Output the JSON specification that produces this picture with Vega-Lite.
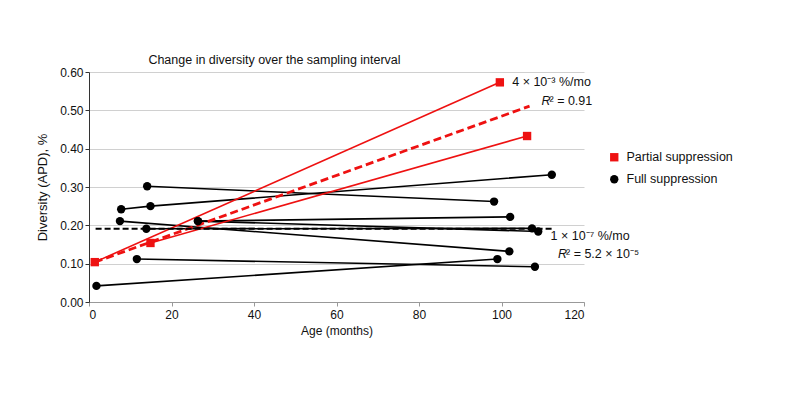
{
  "$schema": "https://vega.github.io/schema/vega-lite/v6.json",
  "width": 495,
  "height": 230,
  "autosize": "none",
  "padding": {"left": 89, "top": 72, "right": 209, "bottom": 118},
  "background": "white",
  "config": {
    "font": "Liberation Sans",
    "view": {"stroke": null},
    "title": {"font": "Liberation Sans", "fontSize": 12.5, "fontWeight": "normal", "color": "#111"}
  },
  "title": {"text": "Change in diversity over the sampling interval", "anchor": "middle", "dx": -62, "offset": 0},
  "datasets": {
    "patients": [
      {"pid": "P1", "group": "Partial suppression", "age": 1.4, "apd": 0.104},
      {"pid": "P1", "group": "Partial suppression", "age": 99.6, "apd": 0.573},
      {"pid": "P2", "group": "Partial suppression", "age": 14.9, "apd": 0.154},
      {"pid": "P2", "group": "Partial suppression", "age": 106.2, "apd": 0.433},
      {"pid": "F1", "group": "Full suppression", "age": 1.8, "apd": 0.042},
      {"pid": "F1", "group": "Full suppression", "age": 99.0, "apd": 0.112},
      {"pid": "F2", "group": "Full suppression", "age": 11.6, "apd": 0.112},
      {"pid": "F2", "group": "Full suppression", "age": 108.1, "apd": 0.092},
      {"pid": "F3", "group": "Full suppression", "age": 14.1, "apd": 0.302},
      {"pid": "F3", "group": "Full suppression", "age": 98.2, "apd": 0.262},
      {"pid": "F4", "group": "Full suppression", "age": 7.8, "apd": 0.242},
      {"pid": "F4", "group": "Full suppression", "age": 14.9, "apd": 0.250},
      {"pid": "F4", "group": "Full suppression", "age": 112.2, "apd": 0.332},
      {"pid": "F5", "group": "Full suppression", "age": 7.5, "apd": 0.211},
      {"pid": "F5", "group": "Full suppression", "age": 101.9, "apd": 0.132},
      {"pid": "F6", "group": "Full suppression", "age": 13.9, "apd": 0.191},
      {"pid": "F6", "group": "Full suppression", "age": 107.4, "apd": 0.192},
      {"pid": "F7", "group": "Full suppression", "age": 26.4, "apd": 0.211},
      {"pid": "F7", "group": "Full suppression", "age": 102.1, "apd": 0.222},
      {"pid": "F8", "group": "Full suppression", "age": 26.4, "apd": 0.211},
      {"pid": "F8", "group": "Full suppression", "age": 108.9, "apd": 0.184}
    ],
    "fitPartial": [
      {"age": 1.4, "apd": 0.104},
      {"age": 106.8, "apd": 0.511}
    ],
    "fitFull": [
      {"age": 1.6, "apd": 0.191},
      {"age": 112.4, "apd": 0.191}
    ],
    "notes": [
      {"label": "4 × 10⁻³ %/mo", "age": 102.6, "apd": 0.573},
      {"label": "1 × 10⁻⁷ %/mo", "age": 111.9, "apd": 0.171}
    ],
    "rnotes": [
      {"r": "R", "rest": "² = 0.91", "age": 109.7, "apd": 0.525},
      {"r": "R", "rest": "² = 5.2 × 10⁻⁵", "age": 113.7, "apd": 0.126}
    ]
  },
  "encoding": {
    "x": {
      "field": "age", "type": "quantitative",
      "scale": {"domain": [0, 120], "nice": false},
      "axis": {
        "title": "Age (months)", "values": [0, 20, 40, 60, 80, 100, 120],
        "grid": false, "domainColor": "#999", "tickColor": "#999", "tickSize": 4,
        "labelFontSize": 12, "labelColor": "#111", "labelPadding": 3,
        "titleFontSize": 12, "titleFontWeight": "normal", "titleColor": "#111", "titlePadding": 5
      }
    },
    "y": {
      "field": "apd", "type": "quantitative",
      "scale": {"domain": [0, 0.6], "nice": false},
      "axis": {
        "title": "Diversity (APD), %", "values": [0, 0.1, 0.2, 0.3, 0.4, 0.5, 0.6], "format": ".2f",
        "grid": true, "gridColor": "#d0d0d0", "gridWidth": 1,
        "domainColor": "#333", "tickColor": "#333", "tickSize": 4,
        "labelFontSize": 12, "labelColor": "#111", "labelPadding": 2,
        "titleFontSize": 13, "titleFontWeight": "normal", "titleColor": "#111", "titlePadding": 10
      }
    }
  },
  "layer": [
    {
      "data": {"name": "patients"},
      "transform": [{"filter": "datum.group === 'Full suppression'"}],
      "mark": {"type": "line", "strokeWidth": 1.6, "color": "#000000"},
      "encoding": {"detail": {"field": "pid"}}
    },
    {
      "data": {"name": "patients"},
      "transform": [{"filter": "datum.group === 'Partial suppression'"}],
      "mark": {"type": "line", "strokeWidth": 1.6, "color": "#ee1111"},
      "encoding": {"detail": {"field": "pid"}}
    },
    {
      "data": {"name": "fitPartial"},
      "mark": {"type": "line", "strokeDash": [8, 4], "strokeWidth": 2.8, "color": "#ee1111"},
      "encoding": {}
    },
    {
      "data": {"name": "fitFull"},
      "mark": {"type": "line", "strokeDash": [6, 3], "strokeWidth": 2, "color": "#000000"},
      "encoding": {}
    },
    {
      "data": {"name": "patients"},
      "mark": {"type": "point", "filled": true, "opacity": 1, "size": 70},
      "encoding": {
        "color": {"field": "group", "type": "nominal",
          "scale": {"domain": ["Partial suppression", "Full suppression"], "range": ["#ee1111", "#000000"]},
          "legend": {"title": null, "orient": "none", "legendX": 519, "legendY": 79,
            "labelFontSize": 12.5, "labelColor": "#111", "symbolSize": 70, "rowPadding": 9, "labelOffset": 6}},
        "shape": {"field": "group", "type": "nominal",
          "scale": {"domain": ["Partial suppression", "Full suppression"], "range": ["square", "circle"]},
          "legend": {"title": null, "orient": "none", "legendX": 519, "legendY": 79,
            "labelFontSize": 12.5, "labelColor": "#111", "symbolSize": 70, "rowPadding": 9, "labelOffset": 6}}
      }
    },
    {
      "data": {"name": "notes"},
      "mark": {"type": "text", "align": "left", "baseline": "middle", "fontSize": 12.5, "color": "#111"},
      "encoding": {"text": {"field": "label"}}
    },
    {
      "data": {"name": "rnotes"},
      "mark": {"type": "text", "align": "left", "baseline": "middle", "fontSize": 12.5, "fontStyle": "italic", "color": "#111"},
      "encoding": {"text": {"field": "r"}}
    },
    {
      "data": {"name": "rnotes"},
      "mark": {"type": "text", "align": "left", "baseline": "middle", "fontSize": 12.5, "color": "#111", "dx": 8},
      "encoding": {"text": {"field": "rest"}}
    }
  ]
}
